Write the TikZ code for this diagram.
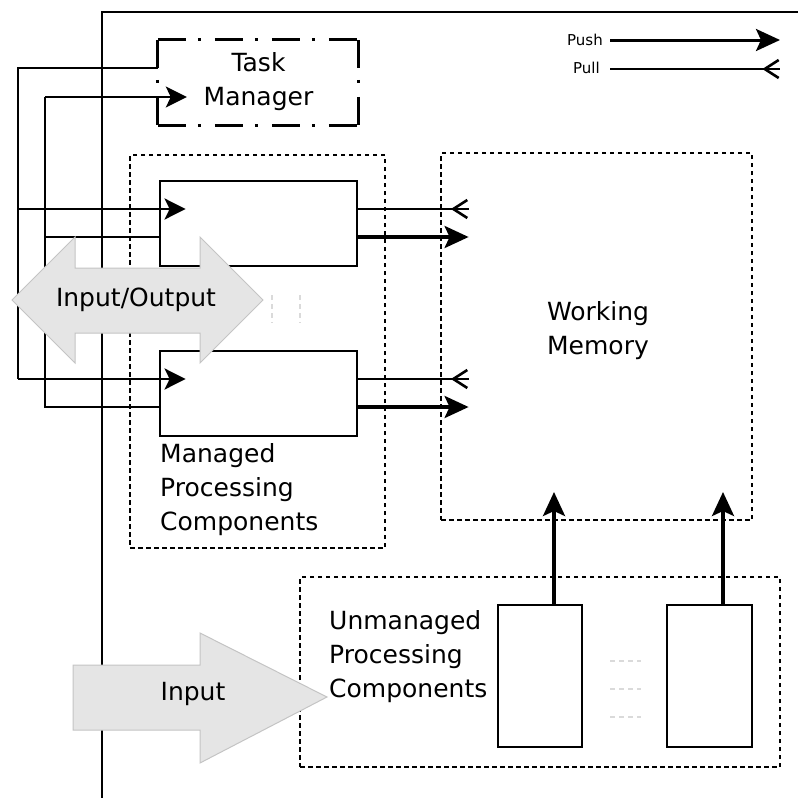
\documentclass[tikz,border=0pt]{standalone}
\usepackage{fontspec}
\setmainfont{DejaVu Sans}
\usetikzlibrary{arrows.meta}
\definecolor{arrowfill}{HTML}{E5E5E5}
\definecolor{arrowline}{HTML}{C4C4C4}
\definecolor{faint}{HTML}{DADADA}
\begin{document}
\begin{tikzpicture}[x=1pt,y=-1pt,
  lbl/.style={font=\fontsize{25}{34}\selectfont, inner sep=0pt},
  small/.style={font=\fontsize{15}{18}\selectfont, inner sep=0pt},
  comp/.style={draw, line width=2.8pt, minimum width=197pt, minimum height=85pt, inner sep=0pt},
  ucomp/.style={draw, line width=2.8pt, minimum width=84pt, minimum height=142pt, inner sep=0pt},
  group/.style={draw, line width=2.8pt, dash pattern=on 4.5pt off 3.5pt, inner sep=0pt},
  tmbox/.style={inner sep=0pt, minimum width=200pt, minimum height=85pt},
  tmside/.style={line width=2.8pt, dash pattern=on 28pt off 12pt on 3pt off 14pt},
  plain/.style={line width=2.6pt},
  conn/.style={plain, -{Stealth[length=21pt,width=21pt,inset=5pt]}},
  push/.style={line width=3.6pt, -{Stealth[length=24pt,width=22pt,inset=5pt]}},
  pull/.style={plain, postaction={draw, -{Straight Barb[reversed,length=14pt,width=18pt,line width=2.6pt]}}},
  bigarrow/.style={fill=arrowfill, draw=arrowline, line width=1pt},
  faintdash/.style={draw=faint, line width=1.5pt, dash pattern=on 5pt off 4pt}
]
\useasboundingbox (0,0) rectangle (798,798);
% frame
\draw[plain] (102,798) -- (102,12) -- (798,12);

% groups
\node[group, minimum width=255pt, minimum height=393pt] (mg) at (257.5,351.5) {};
\node[group, minimum width=311pt, minimum height=367pt] (wm) at (596.5,336.5) {};
\node[group, minimum width=480pt, minimum height=190pt] (ug) at (540,672) {};

% boxes
\node[tmbox] (tm) at (258,82.5) {};
\draw[tmside] (tm.north west) -- (tm.north east);
\draw[tmside] (tm.north east) -- (tm.south east);
\draw[tmside] (tm.south west) -- (tm.south east);
\draw[tmside] (tm.north west) -- (tm.south west);
\node[comp] (b1) at (258.5,223.5) {};
\node[comp] (b2) at (258.5,393.5) {};
\node[ucomp] (ua) at (540,676) {};
\node[ucomp, minimum width=85pt] (ub) at (709.5,676) {};

% task manager -> components
\coordinate (j1) at (18,209);
\draw[plain] (tm.west |- 0,68) -| (18,379);
\draw[conn] (18,379) -- ([xshift=27pt]b2.west |- 0,379);
\draw[conn] (j1) -- ([xshift=27pt]b1.west |- 0,209);
% components -> task manager
\coordinate (j2) at (45,237);
\draw[plain] (b2.west |- 0,407) -| (45,97);
\draw[conn] (45,97) -- ([xshift=29pt]tm.west |- 0,97);
\draw[plain] (b1.west |- 0,237) -- (j2);

% components <-> working memory
\draw[pull] (b1.east |- 0,209) -- ([xshift=29pt]wm.west |- 0,209);
\draw[push] (b1.east |- 0,237) -- ([xshift=29pt]wm.west |- 0,237);
\draw[pull] (b2.east |- 0,379) -- ([xshift=29pt]wm.west |- 0,379);
\draw[push] (b2.east |- 0,407) -- ([xshift=29pt]wm.west |- 0,407);

% unmanaged -> working memory
\draw[push] ([xshift=14pt]ua.north) -- ([xshift=14pt]ua.north |- 0,492);
\draw[push] ([xshift=13.5pt]ub.north) -- ([xshift=13.5pt]ub.north |- 0,492);

% faint dashes
\draw[faintdash] (272,295) -- (272,323);
\draw[faintdash] (300,295) -- (300,323);
\draw[faintdash] (610,661) -- (641,661);
\draw[faintdash] (610,689) -- (641,689);
\draw[faintdash] (610,717) -- (641,717);

% big arrows
\draw[bigarrow] (12,300) -- (75,237) -- (75,268) -- (200,268) -- (200,237) -- (263,300)
  -- (200,363) -- (200,333) -- (75,333) -- (75,363) -- cycle;
\draw[bigarrow] (73,665) -- (200,665) -- (200,633) -- (327,697) -- (200,763) -- (200,730) -- (73,730) -- cycle;

% labels
\node[lbl, align=center] (tmlbl) at (258.5,82) {Task\\Manager};
\node[lbl, align=left, anchor=north west] (mglbl) at (160,443) {Managed\\Processing\\Components};
\node[lbl, align=center] (wmlbl) at (598,331) {Working\\Memory};
\node[lbl, align=left, anchor=north west] (uglbl) at (329,610) {Unmanaged\\Processing\\Components};
\node[lbl] (iolbl) at (136,300) {Input/Output};
\node[lbl] (inlbl) at (193,694) {Input};

% legend
\node[small, anchor=east] (pushlbl) at (603,40) {Push};
\node[small, anchor=east] (pulllbl) at (600,68) {Pull};
\coordinate (pushend) at (780,40);
\coordinate (pullend) at (780,69);
\draw[push, line width=3pt] ([xshift=7pt]pushlbl.east) -- (pushend);
\draw[pull] ([xshift=10pt]pulllbl.east |- pullend) -- (pullend);
\end{tikzpicture}
\end{document}
